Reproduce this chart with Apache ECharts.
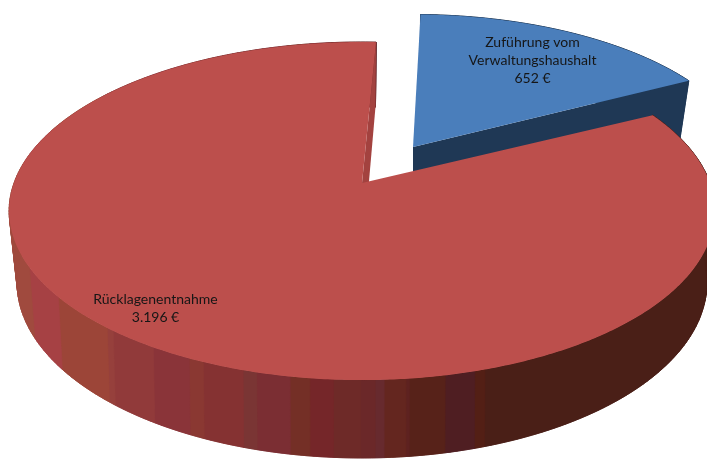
<!DOCTYPE html>
<html>
<head>
<meta charset="utf-8">
<style>html,body{margin:0;padding:0;background:#fff}#c{width:707px;height:460px}</style>
<script src="https://cdn.jsdelivr.net/npm/echarts@6/dist/echarts.min.js"></script>
</head>
<body>
<div id="c"></div>
<script>
// Data
var categories = ['Zuführung vom\nVerwaltungshaushalt', 'Rücklagenentnahme'];
var values = [652, 3196];
var unit = '€';

// Look of each slice, same order as the data
var topColors = ['#4a7ebb', '#bc4f4c'];
var faceColors = ['#1f3855', '#a3423f'];
var startAngles = [1.5, 2.7];          // degrees clockwise from the back of the pie
var apexes = [[413, 147], [362, 183]]; // exploded slice apex on screen
var scalesX = [0.962, 1];              // farther slice looks smaller
var scalesY = [0.94, 1];
var labelCenters = [[532.5, 60], [155.5, 308]];

// Perspective of the pie's top and bottom rim
var topRim = { A: 348, B: 164.4, k: 0.166, drop: 0 };
var bottomRim = { A: 339, B: 169.5, k: 0.185, drop: 67 };

// Banding of the red outer wall: [upper x of band, colour]
var wallBands = [
  [35, '#a04a3e'], [62, '#a64144'], [110, '#9c4538'], [115, '#96403c'], [155, '#913a3a'],
  [190, '#8a3439'], [205, '#8a3832'], [243, '#853232'], [258, '#7a3534'], [290, '#7b2e33'],
  [310, '#742f26'], [333, '#752629'], [360, '#6e2a28'], [375, '#6b2829'], [385, '#672a2e'],
  [405, '#64261f'], [410, '#5e2220'], [445, '#572219'], [475, '#4f1e22'], [485, '#531f15'],
  [9999, '#4a1f17']
];
function wallColor(x) {
  for (var i = 0; i < wallBands.length; i++) if (x < wallBands[i][0]) return wallBands[i][1];
}
function formatValue(v) {
  return String(v).replace(/\B(?=(\d{3})+$)/g, '.') + ' ' + unit;
}
function project(rim, apex, sx, sy, deg) {
  var t = deg * Math.PI / 180, u = Math.sin(t), v = -Math.cos(t), w = 1 - rim.k * v;
  return [apex[0] + sx * rim.A * u / w, apex[1] + sy * (rim.drop + rim.B * v / w)];
}
var total = values.reduce(function (a, b) { return a + b; }, 0);

function renderItem(params, api) {
  var i = params.dataIndex, val = api.value(0);
  var span = val / total * 360;
  // the red slice closes at its own start mark, one full turn on; the blue one opens at its own
  var a0 = i === 0 ? startAngles[0] : startAngles[1] + 360 - span;
  var a1 = a0 + span;
  var apex = apexes[i], sx = scalesX[i], sy = scalesY[i], kids = [];
  var apexDown = [apex[0] + (i === 1 ? 1 : 0), apex[1] + sy * bottomRim.drop];
  function T(d) { return project(topRim, apex, sx, sy, d); }
  function B(d) { return project(bottomRim, apex, sx, sy, d); }
  function colourAt(d, e) { return i === 0 ? faceColors[0] : wallColor((B(d)[0] + B(e)[0]) / 2); }

  var step = 0.25, d;
  // under-layer of single facets: fills the fold where the rim turns at the silhouette
  for (d = a0; d < a1; d += 1) {
    var f = Math.min(d + 1, a1), cf = colourAt(d, f);
    kids.push({ type: 'polygon', shape: { points: [T(d), T(f), B(f), B(d)] },
                style: { fill: cf, stroke: cf, lineWidth: 0.8 } });
  }
  // outer wall: one clean strip per colour band
  var start = a0, cur = null;
  function flush(from, to, colour) {
    var up = [], down = [];
    for (var q = from; q < to; q += step) { up.push(T(q)); down.unshift(B(q)); }
    up.push(T(to)); down.unshift(B(to));
    kids.push({ type: 'polygon', shape: { points: up.concat(down) },
                style: { fill: colour, stroke: colour, lineWidth: 0.6 } });
  }
  for (d = a0; d < a1; d += step) {
    var c = colourAt(d, Math.min(d + step, a1));
    if (cur !== null && c !== cur) { flush(start, d, cur); start = d; }
    cur = c;
  }
  flush(start, a1, cur);

  // radial cut face at the slice's end
  kids.push({ type: 'polygon', shape: { points: [apex, T(a1), B(a1), apexDown] },
              style: { fill: faceColors[i] } });
  // top face
  var pts = [apex];
  for (var d2 = a0; d2 < a1; d2 += 0.5) pts.push(T(d2));
  pts.push(T(a1));
  kids.push({ type: 'polygon', shape: { points: pts }, style: { fill: topColors[i] } });
  // label
  kids.push({ type: 'text', style: {
    text: categories[i] + '\n' + formatValue(val),
    x: labelCenters[i][0], y: labelCenters[i][1],
    align: 'center', verticalAlign: 'middle',
    font: '14px Lato', lineHeight: 18, fill: '#161616'
  }, z2: 10 });
  return { type: 'group', children: kids };
}

var chart = echarts.init(document.getElementById('c'), null, { renderer: 'canvas' });
chart.setOption({
  animation: false,
  backgroundColor: '#ffffff',
  series: [{
    type: 'custom',
    coordinateSystem: 'none',
    renderItem: renderItem,
    silent: true,
    clip: false,
    data: values.map(function (v, i) { return { name: categories[i], value: [v] }; })
  }]
});
</script>
</body>
</html>
